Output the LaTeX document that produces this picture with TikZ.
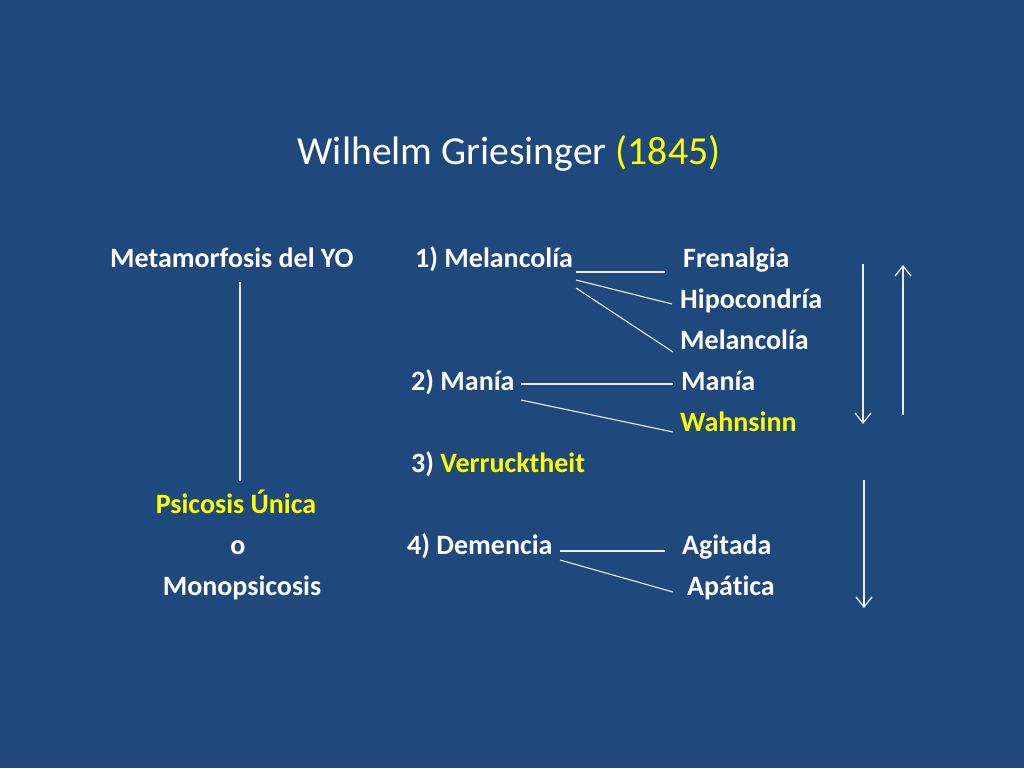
\documentclass[tikz,border=0pt]{standalone}
\usepackage{fontspec}
\setmainfont[Ligatures=NoCommon]{Carlito}
\usetikzlibrary{arrows.meta}
\definecolor{bg}{HTML}{1F497D}
\definecolor{yel}{HTML}{FFFF00}
\definecolor{ln}{HTML}{E8EEF8}
\begin{document}
\begin{tikzpicture}[x=1pt,y=-1pt,
  txt/.style={anchor=base west,inner sep=0pt,text=white,font=\fontsize{28}{34}\selectfont\bfseries},
  ytxt/.style={txt,text=yel},
  conn/.style={draw=ln,line width=1.1pt},
  arr/.style={draw=ln,line width=1.3pt,-{Straight Barb[length=10pt,width=16pt,line width=1.3pt]}}]
\fill[bg] (0,0) rectangle (1024,768);
\useasboundingbox (0,0) rectangle (1024,768);
\node[anchor=base,inner sep=0pt,text=white,font=\fontsize{39.7}{48}\selectfont] (title) at (509,164) {Wilhelm Griesinger \textcolor{yel}{(1845)}};
% left column
\node[txt] (meta) at (110,267) {Metamorfosis del YO};
\node[ytxt,anchor=base] (psic) at (236,513) {Psicosis Única};
\node[txt,anchor=base] (o) at (238,554) {o};
\node[txt,anchor=base] (mono) at (242,595) {Monopsicosis};
% middle column
\node[txt] (m1) at (415,267) {1) Melancolía};
\node[txt] (m2) at (411,390) {2) Manía};
\node[txt] (m3) at (411,472) {3) \textcolor{yel}{Verrucktheit}};
\node[txt] (m4) at (407,554) {4) Demencia};
% right column
\node[txt] (fren) at (683,267) {Frenalgia};
\node[txt] (hipo) at (680,308) {Hipocondría};
\node[txt] (mel) at (680,349) {Melancolía};
\node[txt] (mania) at (681,390) {Manía};
\node[ytxt] (wahn) at (680,431) {Wahnsinn};
\node[txt] (agit) at (682,554) {Agitada};
\node[txt] (apat) at (687,595) {Apática};
% connector endpoints
\coordinate (vtop) at (240,282);
\coordinate (vbot) at (240,481);
\coordinate (a1) at (576,272); \coordinate (b1) at (665,272);
\coordinate (a2) at (576,280); \coordinate (b2) at (672,304);
\coordinate (a3) at (576,288); \coordinate (b3) at (673,352);
\coordinate (a4) at (521,384); \coordinate (b4) at (673,384);
\coordinate (a5) at (521,400); \coordinate (b5) at (673,432);
\coordinate (a6) at (560,551); \coordinate (b6) at (665,551);
\coordinate (a7) at (560,560); \coordinate (b7) at (673,592);
\coordinate (d1s) at (863,264); \coordinate (d1e) at (863,424);
\coordinate (u1s) at (903,415); \coordinate (u1e) at (903,265);
\coordinate (d2s) at (864,480); \coordinate (d2e) at (864,608);
\draw[conn] (vtop) -- (vbot);
\draw[conn] (a1) -- (b1);
\draw[conn] (a2) -- (b2);
\draw[conn] (a3) -- (b3);
\draw[conn] (a4) -- (b4);
\draw[conn] (a5) -- (b5);
\draw[conn] (a6) -- (b6);
\draw[conn] (a7) -- (b7);
\draw[arr] (d1s) -- (d1e);
\draw[arr] (u1s) -- (u1e);
\draw[arr] (d2s) -- (d2e);
\end{tikzpicture}
\end{document}
